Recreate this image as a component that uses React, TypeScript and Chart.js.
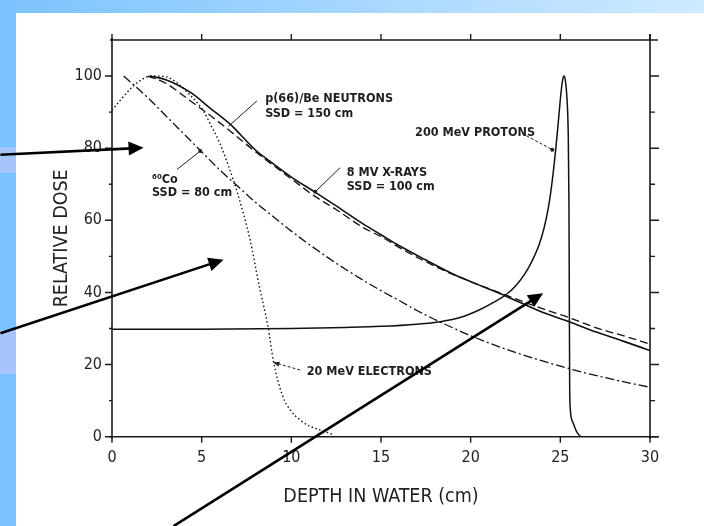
import { useEffect, useRef } from "react";
import { Chart, registerables } from "chart.js";

Chart.register(...registerables);

// ---------- data (depth in cm, relative dose %) ----------
const neutronDepth = [2.1, 3, 4.4, 5.5, 6.6, 8, 8.8, 10, 11.3, 12.5, 14, 15, 16, 17.5, 18.9, 20, 22, 24, 25.5, 27, 28.5, 30];
const neutronDose = [100, 99, 95.4, 91, 86.6, 79.5, 76.4, 72, 67.9, 64, 59, 56, 53, 49, 45.4, 43, 38.9, 34.5, 31.9, 29, 26.5, 23.9];

const xrayDepth = [2.0, 3, 4.4, 5.5, 6.6, 8, 10, 11.3, 12.5, 14, 15, 16, 17.5, 19, 20, 22, 24, 25.5, 27, 28.5, 30];
const xrayDose = [100, 98, 93, 89, 84.7, 79, 71.5, 66.7, 63, 58, 55.5, 52.5, 48.5, 45, 43, 39.2, 35.5, 33, 30.2, 28, 25.7];

const cobaltDepth = [0.65, 2, 3, 4, 5, 6, 7, 8, 9, 10, 11, 12, 13, 14, 15, 16, 17, 18, 19, 20, 22, 24, 26, 28, 30];
const cobaltDose = [100, 94, 89, 84, 79, 74, 69.5, 65, 61, 57, 53.3, 49.8, 46.5, 43.4, 40.5, 37.8, 35, 32.5, 30.2, 28, 24.2, 21, 18.2, 15.8, 13.7];

const electronDepth = [0, 0.5, 1, 1.5, 2.2, 3, 3.6, 4.3, 5.1, 5.5, 6, 6.5, 7, 7.7, 8.2, 8.7, 9, 9.5, 10, 10.5, 11, 12, 12.3];
const electronDose = [90.5, 93.5, 96.3, 98.5, 100, 99.8, 98.2, 95, 90.3, 86.5, 81.5, 75, 67.5, 54.6, 42, 30.5, 21, 11.5, 7, 4.6, 3, 1.2, 0.6];

const protonDepth = [0, 5, 10, 13, 15, 17, 18.3, 19.5, 20.5, 21.3, 22, 22.5, 23, 23.4, 23.8, 24.1, 24.35, 24.55, 24.75, 24.9, 25.05, 25.15, 25.22, 25.3, 25.38, 25.44, 25.48, 25.5, 25.52, 25.55, 25.7, 25.9, 26.2, 28, 30];
const protonDose = [29.8, 29.8, 30, 30.3, 30.6, 31.2, 31.9, 33.2, 35.2, 37.3, 39.5, 41.8, 45, 48.5, 53, 58, 64, 71, 80, 88, 96, 99.5, 100, 98, 93, 84, 65, 40, 15, 8, 4, 1.5, 0, 0, 0];

const xTicks = [0, 5, 10, 15, 20, 25, 30];
const yTicks = [0, 20, 40, 60, 80, 100];
const yMinorTicks = [10, 30, 50, 70, 90];

// annotation texts, placed in data coordinates (depth, dose)
const labels = [
  { text: "p(66)/Be NEUTRONS", x: 8.54, y: 93.8 },
  { text: "SSD = 150 cm", x: 8.54, y: 89.6 },
  { text: "8 MV X-RAYS", x: 13.09, y: 73.2 },
  { text: "SSD = 100 cm", x: 13.09, y: 69.4 },
  { text: "200 MeV PROTONS", x: 16.9, y: 84.4 },
  { text: "⁶⁰Co", x: 2.23, y: 71.3 },
  { text: "SSD = 80 cm", x: 2.23, y: 67.6 },
  { text: "20 MeV ELECTRONS", x: 10.86, y: 18.1 },
];

// leader lines [x1, y1, x2, y2], style
const leaders = [
  { p: [8.08, 93.1, 6.5, 86.1], dash: [] as number[], end: "none" },
  { p: [12.72, 74.6, 11.33, 67.9], dash: [] as number[], end: "dot" },
  { p: [3.62, 74.1, 4.92, 79.2], dash: [] as number[], end: "dot" },
  { p: [22.86, 84.1, 24.55, 79.6], dash: [3, 2], end: "dot" },
  { p: [10.49, 18.5, 9.0, 20.6], dash: [3, 2], end: "arrow" },
];

// slide arrows [x1, y1, x2, y2] in data coordinates (extend beyond the plot)
const arrows = [
  [-6.22, 78.2, 1.76, 80.1],
  [-6.22, 28.7, 6.22, 49.1],
  [3.43, -24.8, 24.04, 39.8],
];

const FONT = '"DejaVu Sans Condensed", "Liberation Sans Narrow", "DejaVu Sans", sans-serif';

function pts(xs: number[], ys: number[]) {
  return xs.map((x, i) => ({ x, y: ys[i] }));
}

function head(ctx: CanvasRenderingContext2D, x1: number, y1: number, x2: number, y2: number, len: number, half: number) {
  const a = Math.atan2(y2 - y1, x2 - x1);
  ctx.beginPath();
  ctx.moveTo(x2, y2);
  ctx.lineTo(x2 - len * Math.cos(a) + half * Math.sin(a), y2 - len * Math.sin(a) - half * Math.cos(a));
  ctx.lineTo(x2 - len * Math.cos(a) - half * Math.sin(a), y2 - len * Math.sin(a) + half * Math.cos(a));
  ctx.closePath();
  ctx.fill();
}

const decor = {
  id: "decor",
  beforeDraw(chart: any) {
    const { ctx, width, height } = chart;
    ctx.save();
    ctx.fillStyle = "#ffffff";
    ctx.fillRect(0, 0, width, height);
    const g = ctx.createLinearGradient(0, 0, width, 0);
    g.addColorStop(0, "#7cc3ff");
    g.addColorStop(1, "#cfeaff");
    ctx.fillStyle = g;
    ctx.fillRect(0, 0, width, 13);
    ctx.fillStyle = "#79c1ff";
    ctx.fillRect(0, 0, 16, height);
    ctx.fillStyle = "#a6c6fb";
    ctx.fillRect(0, 147, 16, 26);
    ctx.fillRect(0, 330, 16, 44);
    ctx.restore();
  },
  beforeDatasetsDraw(chart: any) {
    const { ctx } = chart;
    const xs = chart.scales.x;
    const ys = chart.scales.y;
    const L = xs.getPixelForValue(0);
    const R = xs.getPixelForValue(30);
    const T = ys.getPixelForValue(110);
    const B = ys.getPixelForValue(0);
    ctx.save();
    ctx.strokeStyle = "#1a1a1a";
    ctx.lineWidth = 1.6;
    ctx.beginPath();
    ctx.moveTo(L - 2, T);
    ctx.lineTo(R + 8, T);
    ctx.moveTo(L, T - 2);
    ctx.lineTo(L, B + 2);
    ctx.moveTo(R, T - 6);
    ctx.lineTo(R, B + 2);
    ctx.moveTo(L - 2, B);
    ctx.lineTo(R + 8, B);
    ctx.stroke();
    ctx.lineWidth = 1.4;
    ctx.beginPath();
    xTicks.forEach((v) => {
      const px = xs.getPixelForValue(v);
      ctx.moveTo(px, B);
      ctx.lineTo(px, B + 6);
      ctx.moveTo(px, T);
      ctx.lineTo(px, T - 6);
    });
    yTicks.forEach((v) => {
      const py = ys.getPixelForValue(v);
      ctx.moveTo(L, py);
      ctx.lineTo(L - 7, py);
      ctx.moveTo(R, py);
      ctx.lineTo(R + 9, py);
    });
    yMinorTicks.forEach((v) => {
      const py = ys.getPixelForValue(v);
      ctx.moveTo(L, py);
      ctx.lineTo(L - 3, py);
      ctx.moveTo(R, py);
      ctx.lineTo(R + 5, py);
    });
    ctx.stroke();
    ctx.restore();
  },
  afterDraw(chart: any) {
    const { ctx } = chart;
    const xs = chart.scales.x;
    const ys = chart.scales.y;
    const X = (v: number) => xs.getPixelForValue(v);
    const Y = (v: number) => ys.getPixelForValue(v);
    ctx.save();
    ctx.fillStyle = "#1e1e1e";
    ctx.font = `bold 12.5px ${FONT}`;
    ctx.textAlign = "left";
    ctx.textBaseline = "middle";
    labels.forEach((l) => ctx.fillText(l.text, X(l.x), Y(l.y)));

    leaders.forEach((ld) => {
      const [a, b, c, d] = ld.p;
      ctx.strokeStyle = "#1e1e1e";
      ctx.lineWidth = 1;
      ctx.setLineDash(ld.dash);
      ctx.beginPath();
      ctx.moveTo(X(a), Y(b));
      ctx.lineTo(X(c), Y(d));
      ctx.stroke();
      ctx.setLineDash([]);
      if (ld.end === "dot") {
        ctx.beginPath();
        ctx.arc(X(c), Y(d), 2, 0, Math.PI * 2);
        ctx.fill();
      } else if (ld.end === "arrow") {
        head(ctx, X(a), Y(b), X(c), Y(d), 6, 2.5);
      }
    });

    ctx.strokeStyle = "#000";
    ctx.fillStyle = "#000";
    ctx.lineWidth = 2.6;
    arrows.forEach(([a, b, c, d]) => {
      const x1 = X(a), y1 = Y(b), x2 = X(c), y2 = Y(d);
      const ang = Math.atan2(y2 - y1, x2 - x1);
      ctx.beginPath();
      ctx.moveTo(x1, y1);
      ctx.lineTo(x2 - 12 * Math.cos(ang), y2 - 12 * Math.sin(ang));
      ctx.stroke();
      head(ctx, x1, y1, x2, y2, 15, 7);
    });
    ctx.restore();
  },
};

export default function App() {
  const ref = useRef<HTMLCanvasElement | null>(null);
  useEffect(() => {
    document.body.style.margin = "0";
    if (!ref.current) return;
    const common = { borderColor: "#111", pointRadius: 0, fill: false, cubicInterpolationMode: "monotone" as const, showLine: true };
    const chart = new Chart(ref.current, {
      type: "scatter",
      data: {
        datasets: [
          { ...common, label: "p(66)/Be neutrons", data: pts(neutronDepth, neutronDose), borderWidth: 1.6 },
          { ...common, label: "8 MV X-rays", data: pts(xrayDepth, xrayDose), borderWidth: 1.3, borderDash: [8, 4] },
          { ...common, label: "60Co", data: pts(cobaltDepth, cobaltDose), borderWidth: 1.3, borderDash: [9, 3, 2, 3] },
          { ...common, label: "20 MeV electrons", data: pts(electronDepth, electronDose), borderWidth: 1.4, borderDash: [1.5, 2.5] },
          { ...common, label: "200 MeV protons", data: pts(protonDepth, protonDose), borderWidth: 1.5 },
        ],
      },
      options: {
        animation: false,
        responsive: false,
        layout: { padding: { left: 0, top: 40, right: 54, bottom: 0 } },
        plugins: { legend: { display: false }, tooltip: { enabled: false } },
        scales: {
          x: {
            type: "linear",
            min: 0,
            max: 30,
            grid: { display: false, drawTicks: false },
            border: { display: false },
            afterBuildTicks: (s: any) => {
              s.ticks = xTicks.map((v) => ({ value: v }));
            },
            afterFit: (s: any) => {
              s.height = 89.3;
            },
            ticks: { padding: 12, color: "#222", font: { family: FONT, size: 16 } },
            title: {
              display: true,
              text: "DEPTH IN WATER (cm)",
              color: "#222",
              font: { family: FONT, size: 19.5 },
              padding: { top: 0, bottom: 17.5 },
            },
          },
          y: {
            type: "linear",
            min: 0,
            max: 110,
            grid: { display: false, drawTicks: false },
            border: { display: false },
            afterBuildTicks: (s: any) => {
              s.ticks = yTicks.map((v) => ({ value: v }));
            },
            afterFit: (s: any) => {
              s.width = 112;
            },
            ticks: { padding: 10, color: "#222", font: { family: FONT, size: 16 } },
            title: {
              display: true,
              text: "RELATIVE DOSE",
              color: "#222",
              font: { family: FONT, size: 19.5 },
              padding: { top: 50, bottom: 0 },
            },
          },
        },
      },
      plugins: [decor],
    });
    return () => chart.destroy();
  }, []);
  return (
    <div style={{ position: "absolute", left: 0, top: 0, width: 704, height: 526 }}>
      <canvas ref={ref} width={704} height={526} style={{ display: "block" }} />
    </div>
  );
}
